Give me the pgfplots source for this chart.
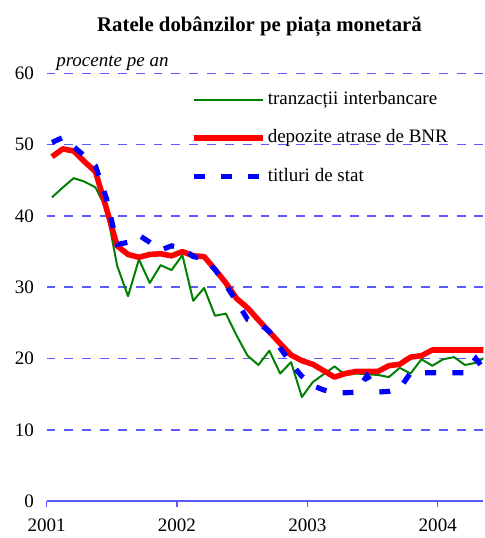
\documentclass[border=0pt]{standalone}
\usepackage{pgfplots}
\pgfplotsset{compat=1.18}
\usepackage{pgfplotstable}
\usepackage{fontspec}
\setmainfont{Liberation Serif}

\definecolor{tgreen}{RGB}{0,128,0}
\definecolor{gridblue}{RGB}{90,90,255}

% luni de la ianuarie 2001 (x = luna + 0.5)
\pgfplotstableread{
m     tranz  depoz  titluri
0.5   42.6   48.3   50.3
1.5   44.0   49.4   51.0
2.5   45.3   49.1   49.7
3.5   44.8   47.6   48.4
4.5   44.0   46.2   47.0
5.5   41.0   41.1   42.5
6.5   33.0   35.8   36.0
7.5   28.75  34.6   36.3
8.5   33.9   34.2   37.3
9.5   30.6   34.6   36.3
10.5  33.1   34.7   35.2
11.5  32.4   34.4   35.8
12.5  34.5   35.0   35.5
13.5  28.1   34.4   34.3
14.5  29.9   34.3   34.0
15.5  26.0   32.5   32.5
16.5  26.3   30.6   30.3
17.5  23.2   28.4   28.0
18.5  20.4   27.1   25.5
19.5  19.1   25.4   25.0
20.5  21.1   23.75  23.8
21.5  17.9   22.1   21.5
22.5  19.5   20.5   19.3
23.5  14.6   19.7   17.5
24.5  16.7   19.2   16.2
25.5  17.8   18.3   15.6
26.5  18.9   17.4   15.2
27.5  17.7   17.9   15.2
28.5  17.9   18.2   15.3
29.5  17.8   18.2   17.6
30.5  17.7   18.2   15.3
31.5  17.4   19.0   15.4
32.5  18.7   19.2   15.8
33.5  17.9   20.2   18.0
34.5  19.9   20.4   18.0
35.5  19.0   21.2   18.0
36.5  19.9   21.2   18.0
37.5  20.2   21.2   18.0
38.5  19.1   21.2   18.0
39.5  19.4   21.2   20.0
40.5  20.3   21.2   18.0
}\rates

\begin{document}
\fontsize{9.6}{11.5}\selectfont
\begin{tikzpicture}
\begin{axis}[
    scale only axis,
    width=220.5pt, height=216pt,
    xmin=0, xmax=40.2, ymin=0, ymax=60,
    axis x line*=bottom, axis y line*=left,
    x axis line style={gridblue, line width=0.75pt, -},
    y axis line style={draw=none},
    xtick={0,12,24,36},
    xticklabels={2001,2002,2003,2004},
    ytick={10,20,...,60},
    extra y ticks={0},
    extra y tick style={grid=none},
    tick align=outside,
    major tick length=3pt,
    xtick style={gridblue, line width=0.75pt},
    ytick style={draw=none},
    ymajorgrids,
    major grid style={gridblue, line width=0.75pt, dash pattern=on 4.5pt off 4.5pt},
    y grid style={gridblue, line width=0.75pt, dash pattern=on 4.5pt off 4.5pt},
    yticklabel style={xshift=0pt},
    xticklabel style={yshift=-2.5pt},
    /pgf/number format/assume math mode=true,
    legend style={at={(0.3295,0.849)}, anchor=west, draw=none, fill=none,
        inner sep=0pt, row sep=8.3pt,
        nodes={inner sep=1pt, text height=7pt, text depth=2pt}},
    legend cell align=left,
    legend image code/.code={\draw[#1] (0pt,0pt) -- (35pt,0pt);},
    extra description/.code={
        \node[anchor=base, font=\fontsize{10.5}{12}\selectfont\bfseries, yshift=21pt] at (0.4875,1)
            {Ratele dobânzilor pe piața monetară};
        \node[anchor=base west, font=\itshape, xshift=1.5pt, yshift=3.6pt] at (0,1)
            {procente pe an};
        \path (0,0) ++(-23.5pt,-16pt) (1,1) ++(0pt,37pt);
    },
]
\addplot[tgreen, line width=1pt, line join=round] table[x=m, y=tranz] {\rates};
\addplot[red, line width=2.8pt, line join=round] table[x=m, y=depoz] {\rates};
\addplot[blue, line width=2.6pt, dash pattern=on 5.5pt off 8.25pt] table[x=m, y=titluri] {\rates};
\legend{tranzacții interbancare, depozite atrase de BNR, titluri de stat}
\end{axis}
\end{tikzpicture}
\end{document}
